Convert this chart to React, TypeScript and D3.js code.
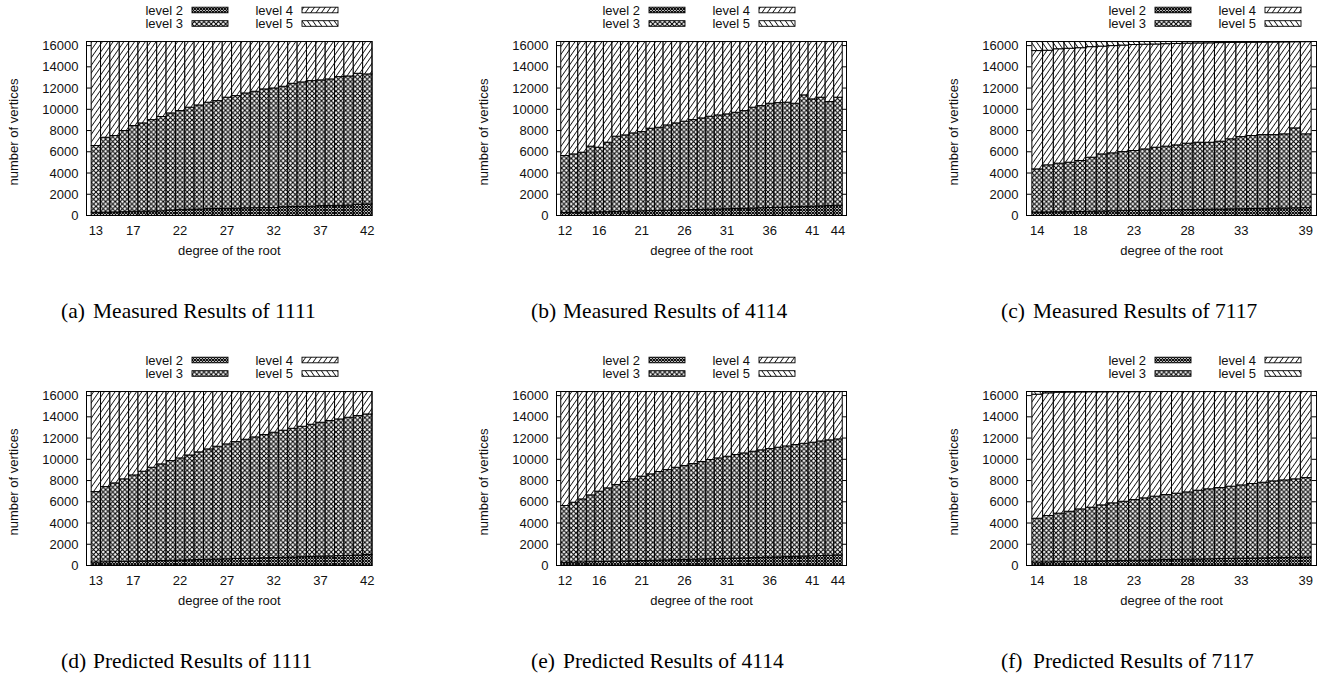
import React from "react";
import * as d3 from "d3";

// degree of the root (categories) for the three trees
const degrees1111 = [13, 14, 15, 16, 17, 18, 19, 20, 21, 22, 23, 24, 25, 26, 27, 28, 29, 30, 31, 32, 33, 34, 35, 36, 37, 38, 39, 40, 41, 42];
const degrees4114 = [12, 13, 14, 15, 16, 17, 18, 19, 20, 21, 22, 23, 24, 25, 26, 27, 28, 29, 30, 31, 32, 33, 34, 35, 36, 37, 38, 39, 40, 41, 42, 43, 44];
const degrees7117 = [14, 15, 16, 17, 18, 19, 20, 21, 22, 23, 24, 25, 26, 27, 28, 29, 30, 31, 32, 33, 34, 35, 36, 37, 38, 39];

// x tick labels as printed by gnuplot
const ticks1111 = [13, 17, 22, 27, 32, 37, 42];
const ticks4114 = [12, 16, 21, 26, 31, 36, 41, 44];
const ticks7117 = [14, 18, 23, 28, 33, 39];
const yTicks = [0, 2000, 4000, 6000, 8000, 10000, 12000, 14000, 16000];
const Y_MAX = 16384;

const levelNames = ["level 2", "level 3", "level 4", "level 5"];

// (a) measured 1111
const meas1111L2 = [310, 320, 340, 360, 400, 410, 420, 440, 520, 580, 600, 610, 650, 660, 670, 680, 720, 730, 740, 750, 830, 850, 860, 870, 930, 950, 960, 980, 1060, 1090];
const meas1111L3 = [6280, 7050, 7190, 7640, 8070, 8310, 8610, 8880, 9140, 9300, 9600, 9800, 10020, 10160, 10470, 10610, 10820, 10970, 11180, 11260, 11340, 11600, 11720, 11830, 11840, 11910, 12120, 12160, 12330, 12240];
const meas1111L4 = [9790, 9010, 8850, 8380, 7910, 7660, 7350, 7060, 6720, 6500, 6180, 5970, 5710, 5560, 5240, 5090, 4840, 4680, 4460, 4370, 4210, 3930, 3800, 3680, 3610, 3520, 3300, 3240, 2990, 3050];
const meas1111L5: number[] = [];

// (b) measured 4114
const meas4114L2 = [290, 300, 310, 330, 350, 360, 380, 400, 420, 440, 460, 480, 500, 520, 540, 560, 580, 600, 620, 640, 660, 680, 700, 730, 750, 780, 800, 830, 860, 880, 910, 940, 970];
const meas4114L3 = [5360, 5500, 5650, 6200, 6080, 6540, 7090, 7190, 7360, 7460, 7760, 7830, 8030, 8200, 8340, 8470, 8610, 8750, 8850, 8930, 9060, 9200, 9500, 9620, 9820, 9850, 9870, 9740, 10500, 10100, 10230, 9790, 10170];
const meas4114L4 = [10730, 10580, 10420, 9850, 9950, 9480, 8910, 8790, 8600, 8480, 8160, 8070, 7850, 7660, 7500, 7350, 7190, 7030, 6910, 6810, 6660, 6500, 6180, 6030, 5810, 5750, 5710, 5810, 5020, 5400, 5240, 5650, 5240];
const meas4114L5: number[] = [];

// (c) measured 7117
const meas7117L2 = [330, 340, 350, 360, 380, 400, 420, 440, 460, 480, 500, 510, 530, 550, 570, 580, 600, 610, 630, 640, 660, 670, 690, 700, 720, 740];
const meas7117L3 = [4060, 4430, 4580, 4660, 4800, 5090, 5380, 5460, 5560, 5640, 5770, 5920, 6000, 6100, 6240, 6320, 6300, 6390, 6590, 6790, 6870, 6950, 6930, 6990, 7530, 6950];
const meas7117L4 = [11140, 10790, 10770, 10730, 10620, 10410, 10150, 10100, 10030, 9980, 9860, 9720, 9650, 9550, 9420, 9350, 9360, 9280, 9080, 8880, 8790, 8710, 8720, 8660, 8110, 8680];
const meas7117L5 = [850, 820, 680, 630, 580, 480, 430, 380, 330, 280, 250, 230, 200, 180, 150, 130, 120, 100, 80, 70, 60, 50, 40, 30, 20, 10];

// (d) predicted 1111
const pred1111L2 = [330, 350, 370, 390, 410, 430, 450, 470, 500, 520, 540, 560, 590, 610, 630, 660, 680, 700, 730, 750, 780, 800, 830, 850, 880, 900, 930, 960, 990, 1030];
const pred1111L3 = [6630, 7080, 7410, 7770, 8120, 8450, 8800, 9100, 9380, 9610, 9870, 10140, 10390, 10620, 10820, 11010, 11210, 11410, 11600, 11800, 11960, 12120, 12280, 12450, 12610, 12750, 12870, 13000, 13130, 13240];
const pred1111L4 = [9420, 8950, 8600, 8220, 7850, 7500, 7130, 6810, 6500, 6250, 5970, 5680, 5400, 5150, 4930, 4710, 4490, 4270, 4050, 3830, 3640, 3460, 3270, 3080, 2890, 2730, 2580, 2420, 2260, 2110];
const pred1111L5: number[] = [];

// (e) predicted 4114
const pred4114L2 = [300, 320, 340, 360, 370, 390, 410, 430, 450, 470, 490, 510, 530, 550, 570, 590, 610, 630, 650, 680, 700, 720, 740, 770, 790, 810, 840, 860, 890, 910, 940, 970, 1000];
const pred4114L3 = [5350, 5640, 5930, 6290, 6630, 6920, 7210, 7480, 7710, 7940, 8140, 8340, 8500, 8700, 8840, 9010, 9180, 9350, 9480, 9610, 9750, 9880, 10020, 10120, 10220, 10330, 10420, 10530, 10620, 10700, 10790, 10860, 10920];
const pred4114L4 = [10730, 10420, 10110, 9730, 9380, 9070, 8760, 8470, 8220, 7970, 7750, 7530, 7350, 7130, 6970, 6780, 6590, 6400, 6250, 6090, 5930, 5780, 5620, 5490, 5370, 5240, 5120, 4990, 4870, 4770, 4650, 4550, 4460];
const pred4114L5: number[] = [];

// (f) predicted 7117
const pred7117L2 = [330, 340, 360, 380, 400, 420, 440, 460, 480, 500, 520, 540, 560, 580, 600, 610, 630, 650, 670, 690, 700, 720, 740, 760, 780, 800];
const pred7117L3 = [4120, 4370, 4570, 4730, 4930, 5070, 5270, 5440, 5570, 5710, 5850, 5990, 6120, 6230, 6330, 6480, 6590, 6690, 6800, 6900, 7020, 7120, 7230, 7300, 7380, 7480];
const pred7117L4 = [11680, 11550, 11390, 11230, 11020, 10870, 10650, 10470, 10320, 10160, 10010, 9850, 9700, 9570, 9450, 9290, 9160, 9040, 8910, 8790, 8660, 8540, 8410, 8320, 8220, 8100];
const pred7117L5 = [250, 120, 60, 40, 30, 20, 20, 10, 10, 10];

const patternIds = ["pat-l2", "pat-l3", "pat-l4", "pat-l5"];
const FONT = "'Liberation Sans', Arial, Helvetica, sans-serif";
const SERIF = "'Liberation Serif', 'Times New Roman', serif";

type Row = { degree: number; l2: number; l3: number; l4: number; l5: number };

const Patterns = () => (
  <defs>
    <pattern id="pat-l2" patternUnits="userSpaceOnUse" width={3} height={3}>
      <rect width={3} height={3} fill="#fff" />
      <path d="M0,0L3,3M3,0L0,3" stroke="#000" strokeWidth={1.05} />
    </pattern>
    <pattern id="pat-l3" patternUnits="userSpaceOnUse" width={4.8} height={4.8}>
      <rect width={4.8} height={4.8} fill="#fff" />
      <path d="M0,0L4.8,4.8M4.8,0L0,4.8" stroke="#000" strokeWidth={1.05} />
    </pattern>
    <pattern id="pat-l4" patternUnits="userSpaceOnUse" width={4.4} height={10} patternTransform="rotate(35)">
      <rect width={4.4} height={10} fill="#fff" />
      <line x1={2.2} y1={0} x2={2.2} y2={10} stroke="#000" strokeWidth={0.85} />
    </pattern>
    <pattern id="pat-l5" patternUnits="userSpaceOnUse" width={4.4} height={10} patternTransform="rotate(-35)">
      <rect width={4.4} height={10} fill="#fff" />
      <line x1={2.2} y1={0} x2={2.2} y2={10} stroke="#000" strokeWidth={0.85} />
    </pattern>
  </defs>
);

type PanelProps = {
  ox: number;
  oy: number;
  degrees: number[];
  ticks: number[];
  l2: number[];
  l3: number[];
  l4: number[];
  l5: number[];
  xEnd: number;
  rightEdge: number;
  legendX: number;
  letter: string;
  caption: string;
};

const Panel = ({ ox, oy, degrees, ticks, l2, l3, l4, l5, xEnd, rightEdge, legendX, letter, caption }: PanelProps) => {
  const left = ox + 86.5;
  const right = ox + rightEdge;
  const top = oy + 41.5;
  const bottom = oy + 215.5;

  const rows: Row[] = degrees.map((d, i) => ({
    degree: d,
    l2: l2[i] ?? 0,
    l3: l3[i] ?? 0,
    l4: l4[i] ?? 0,
    l5: l5[i] ?? 0,
  }));
  const series = d3.stack<Row>().keys(["l2", "l3", "l4", "l5"])(rows);

  const x = d3.scaleLinear().domain([-1, xEnd]).range([left, right]);
  const y = d3.scaleLinear().domain([0, Y_MAX]).range([bottom, top]);

  const legendRows = [0, 1];
  const legendCols = [0, 1];

  return (
    <g>
      {/* y tics, both sides */}
      {yTicks.map((t) => (
        <g key={t}>
          <line x1={left} x2={left + 5} y1={y(t)} y2={y(t)} stroke="#000" />
          <line x1={right - 5} x2={right} y1={y(t)} y2={y(t)} stroke="#000" />
          <text x={left - 8} y={y(t)} dy="0.36em" textAnchor="end" fontSize={13} fontFamily={FONT} fill="#111">
            {t}
          </text>
        </g>
      ))}

      {/* stacked bars */}
      {series.map((s, k) => (
        <g key={s.key} fill={`url(#${patternIds[k]})`} stroke="#000" strokeWidth={1}>
          {s.map((d, i) =>
            d[1] - d[0] > 0 ? (
              <rect
                key={i}
                x={x(i - 0.5)}
                width={x(i + 0.5) - x(i - 0.5)}
                y={y(d[1])}
                height={y(d[0]) - y(d[1])}
              />
            ) : null
          )}
        </g>
      ))}

      {/* x tic labels */}
      {ticks.map((t) => (
        <text key={t} x={x(degrees.indexOf(t))} y={bottom + 19} textAnchor="middle" fontSize={13} fontFamily={FONT} fill="#111">
          {t}
        </text>
      ))}

      {/* frame */}
      <rect x={left} y={top} width={right - left} height={bottom - top} fill="none" stroke="#000" />

      {/* axis labels */}
      <text x={(left + right) / 2} y={oy + 255} textAnchor="middle" fontSize={13} fontFamily={FONT} fill="#111">
        degree of the root
      </text>
      <text
        transform={`translate(${left - 73},${oy + 132}) rotate(-90)`}
        dy="0.35em"
        textAnchor="middle"
        fontSize={13}
        fontFamily={FONT}
        fill="#111"
      >
        number of vertices
      </text>

      {/* legend */}
      {legendCols.map((c) =>
        legendRows.map((r) => {
          const k = c * 2 + r;
          const tx = ox + legendX + c * 110;
          const ty = oy + 10 + r * 13.5;
          return (
            <g key={k}>
              <text x={tx} y={ty} dy="0.36em" textAnchor="end" fontSize={13} fontFamily={FONT} fill="#111">
                {levelNames[k]}
              </text>
              <rect x={tx + 9} y={ty - 2.8} width={36} height={5.6} fill={`url(#${patternIds[k]})`} stroke="#000" strokeWidth={0.9} />
            </g>
          );
        })
      )}

      {/* caption */}
      <text x={ox + 61} y={oy + 318} fontSize={21.5} fontFamily={SERIF} fill="#000">
        {`(${letter})`}
      </text>
      <text x={ox + 93} y={oy + 318} fontSize={21.5} fontFamily={SERIF} fill="#000">
        {caption}
      </text>
    </g>
  );
};

export default function App() {
  return (
    <svg width={1330} height={677} style={{ position: "absolute", left: 0, top: 0, background: "#fff" }}>
      <Patterns />
      <Panel ox={0} oy={0} degrees={degrees1111} ticks={ticks1111} l2={meas1111L2} l3={meas1111L3} l4={meas1111L4} l5={meas1111L5} xEnd={29.5} rightEdge={372} legendX={183} letter="a" caption="Measured Results of 1111" />
      <Panel ox={470} oy={0} degrees={degrees4114} ticks={ticks4114} l2={meas4114L2} l3={meas4114L3} l4={meas4114L4} l5={meas4114L5} xEnd={33} rightEdge={376.5} legendX={170} letter="b" caption="Measured Results of 4114" />
      <Panel ox={940} oy={0} degrees={degrees7117} ticks={ticks7117} l2={meas7117L2} l3={meas7117L3} l4={meas7117L4} l5={meas7117L5} xEnd={26} rightEdge={376.5} legendX={206} letter="c" caption="Measured Results of 7117" />
      <Panel ox={0} oy={350} degrees={degrees1111} ticks={ticks1111} l2={pred1111L2} l3={pred1111L3} l4={pred1111L4} l5={pred1111L5} xEnd={29.5} rightEdge={372} legendX={183} letter="d" caption="Predicted Results of 1111" />
      <Panel ox={470} oy={350} degrees={degrees4114} ticks={ticks4114} l2={pred4114L2} l3={pred4114L3} l4={pred4114L4} l5={pred4114L5} xEnd={33} rightEdge={376.5} legendX={170} letter="e" caption="Predicted Results of 4114" />
      <Panel ox={940} oy={350} degrees={degrees7117} ticks={ticks7117} l2={pred7117L2} l3={pred7117L3} l4={pred7117L4} l5={pred7117L5} xEnd={26} rightEdge={376.5} legendX={206} letter="f" caption="Predicted Results of 7117" />
    </svg>
  );
}
